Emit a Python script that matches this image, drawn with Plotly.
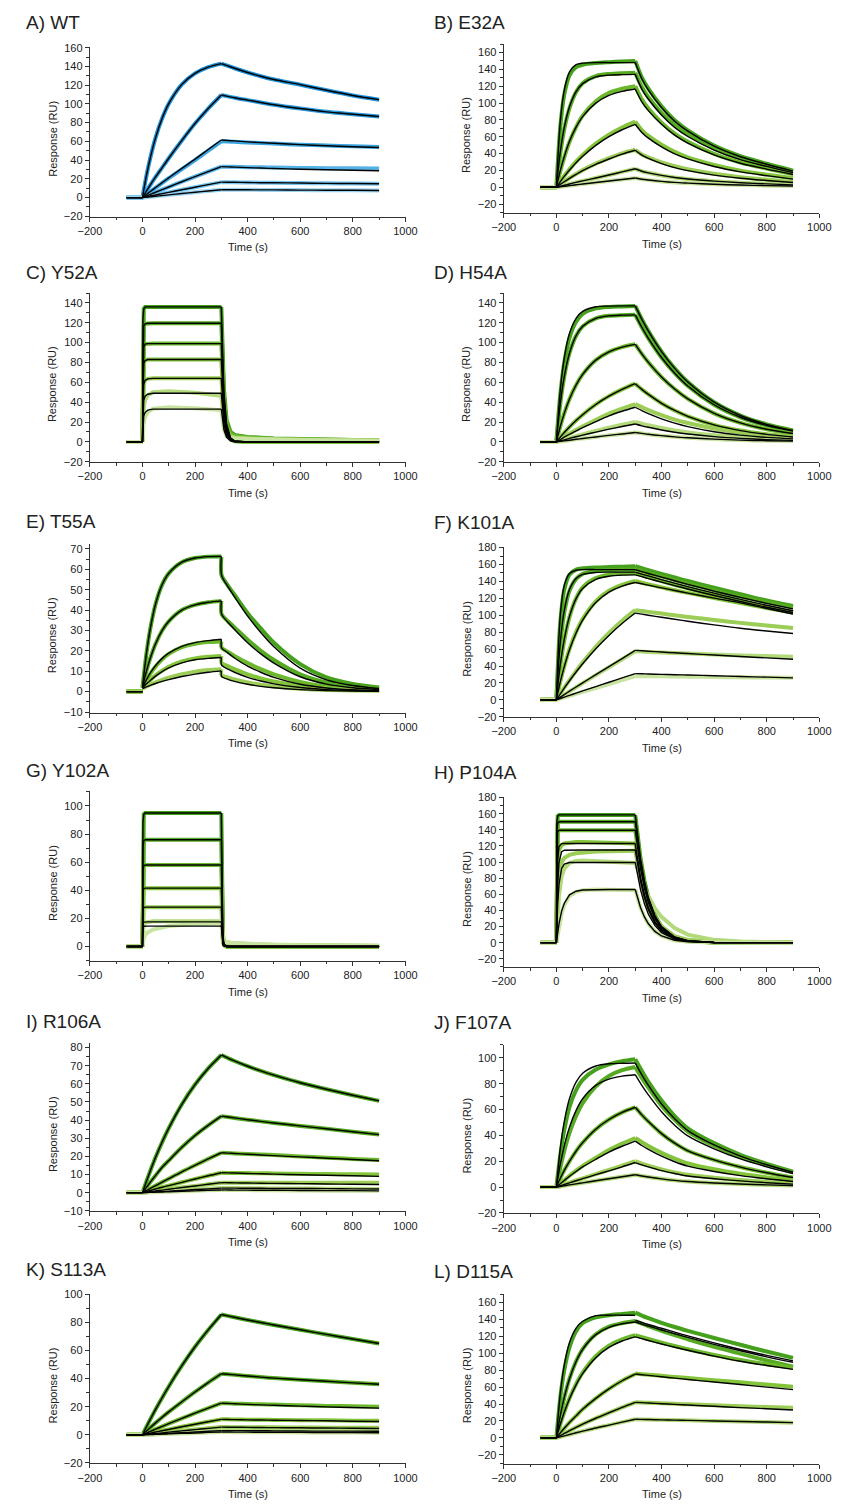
import plotly.graph_objects as go

W, H = 846, 1508

# ---------------- time grids (s) ----------------
BASE_T = [-60, 0]
BASE_Y = [0, 0]
T_A = [0, 15, 30, 50, 75, 100, 150, 200, 250, 300]
T_D = [300, 325, 350, 400, 450, 500, 600, 700, 800, 900]
T_A_FAST = [0, 2, 5, 10, 20, 40, 100, 200, 300]
T_D_FAST = [300, 303, 306, 310, 320, 335, 350, 400, 500, 600, 700, 800, 900]
T_A_P104 = [0, 2, 5, 10, 20, 30, 50, 75, 100, 150, 200, 300]
T_D_P104 = [300, 310, 320, 335, 350, 375, 400, 450, 500, 600, 700, 800, 900]
T_D_T55 = [300, 301, 325, 350, 400, 450, 500, 600, 700, 800, 900]

# ---------------- A) WT ----------------
WT_FIT_A = [
    [0, 23.1, 42.6, 64, 84.6, 100.2, 120.8, 132.6, 139.2, 143],
    [0, 6.8, 13.5, 22, 32, 42, 61, 79, 95, 109.5],
    [0, 3.3, 6.5, 10.8, 16, 21.2, 31.2, 41, 51.3, 61.5],
    [0, 1.7, 3.4, 5.7, 8.5, 11.3, 16.9, 22.4, 27.8, 33],
    [0, 0.85, 1.7, 2.8, 4.2, 5.6, 8.4, 11.1, 13.8, 16.5],
    [0, 0.45, 0.9, 1.45, 2.2, 2.9, 4.3, 5.7, 7.1, 8.4],
]
WT_FIT_D = [
    [143, 140.5, 138, 133.5, 129.5, 126, 120.5, 114.5, 109, 104.5],
    [109.5, 108, 106.5, 104, 101.5, 99, 95, 91.5, 89, 86.5],
    [61.5, 61, 60.5, 59.5, 58.7, 58, 56.5, 55.3, 54.3, 53.5],
    [33, 32.8, 32.5, 32, 31.5, 31, 30.3, 29.7, 29.2, 28.7],
    [16.5, 16.4, 16.3, 16.1, 15.9, 15.8, 15.5, 15.2, 15, 14.8],
    [8.4, 8.4, 8.3, 8.3, 8.2, 8.2, 8.0, 7.9, 7.8, 7.6],
]
WT_DATA_A = [WT_FIT_A[0], WT_FIT_A[1],
             [0, 3.2, 6.3, 10.5, 15.6, 20.7, 30.4, 40, 50, 60],
             WT_FIT_A[3], WT_FIT_A[4], WT_FIT_A[5]]
WT_DATA_D = [WT_FIT_D[0], WT_FIT_D[1],
             [60, 59.8, 59.5, 58.8, 58.2, 57.6, 56.5, 55.5, 54.7, 54],
             [33, 33, 32.8, 32.5, 32.3, 32, 31.7, 31.4, 31.2, 31],
             WT_FIT_D[4], WT_FIT_D[5]]

# ---------------- B) E32A ----------------
E32_FIT_A = [
    [0, 78, 115, 137, 145.5, 147.3, 148, 148, 148, 148],
    [0, 42, 70.8, 95.5, 113.5, 123, 131, 133.1, 133.7, 134],
    [0, 19.8, 36.3, 54.6, 71.4, 83.9, 99.9, 109, 113.9, 116.7],
    [0, 6.7, 12.9, 20.5, 29.2, 36.9, 49.8, 60.1, 68.3, 74.8],
    [0, 3.4, 6.6, 10.6, 15.3, 19.8, 27.3, 33.6, 39.4, 44],
    [0, 1.2, 2.4, 3.9, 5.8, 7.6, 11.1, 14.6, 18.3, 22],
    [0, 0.6, 1.2, 2, 3, 3.9, 5.7, 7.5, 9.3, 11],
]
E32_FIT_D = [
    [148, 128.8, 115.4, 94.7, 78.4, 66.6, 48.8, 36.3, 27.4, 19.2],
    [134, 116.6, 104.5, 85.8, 71, 60.3, 44.2, 32.8, 24.8, 17.4],
    [116.7, 101.5, 91, 74.7, 61.9, 52.5, 38.5, 28.6, 21.6, 15.2],
    [74.8, 65.1, 58.3, 47.9, 39.6, 33.7, 24.7, 18.3, 13.8, 9.7],
    [44, 38.3, 34.3, 28.2, 23.3, 19.8, 14.5, 10.8, 8.1, 5.7],
    [22, 19.1, 17.2, 14.1, 11.7, 9.9, 7.3, 5.4, 4.1, 2.9],
    [11, 9.6, 8.6, 7, 5.8, 5, 3.6, 2.7, 2, 1.5],
]
E32_DATA_A = [
    [0, 72, 110, 133, 142.5, 145.5, 147.5, 148.5, 149.3, 150],
    [0, 40, 69, 94, 113, 123.5, 132, 134.5, 135.5, 136],
    [0, 19, 35.5, 54, 71.5, 85, 102, 112, 117, 120],
    [0, 6.9, 13.4, 21.3, 30.4, 38.4, 51.8, 62.5, 71, 78],
    [0, 3.5, 6.8, 11, 15.8, 20.4, 28.1, 34.6, 40.3, 44.5],
    E32_FIT_A[5], E32_FIT_A[6],
]
E32_DATA_D = [
    [150, 130.5, 117, 96, 79.5, 67.5, 49.5, 37, 28, 19.8],
    [136, 119, 107, 88, 73.5, 62.5, 46, 34.5, 26, 18.5],
    [120, 104.4, 93.6, 76.8, 63.6, 54, 39.6, 29.4, 22.2, 15.6],
    [78, 68, 61, 50.5, 42, 35.5, 26.5, 19.8, 15, 11],
    [44.5, 39, 35.5, 29.5, 25, 21.5, 16, 12, 9, 6.5],
    E32_FIT_D[5], E32_FIT_D[6],
]

# ---------------- C) Y52A ----------------
Y52_FIT_A = [
    [0, 125, 134, 136, 136, 136, 136, 136, 136],
    [0, 108, 117, 119, 119.5, 119.5, 119.5, 119.5, 119.5],
    [0, 88, 96, 98.5, 99, 99, 99, 99, 99],
    [0, 70, 79, 82, 83, 83, 83, 83, 83],
    [0, 50, 58, 62, 63.5, 64, 64, 64, 64],
    [0, 35, 42, 46, 48, 49, 49, 49, 49],
    [0, 20, 26, 29.5, 32, 33, 33, 33, 33],
]
Y52_FIT_D = [
    [136, 100.6, 74.8, 50.3, 18.4, 4.1, 1, 0, 0, 0, 0, 0, 0],
    [119.5, 88.4, 65.7, 44.2, 16.1, 3.6, 0.8, 0, 0, 0, 0, 0, 0],
    [99, 73.3, 54.5, 36.6, 13.4, 3, 0.7, 0, 0, 0, 0, 0, 0],
    [83, 61.4, 45.7, 30.7, 11.2, 2.5, 0.6, 0, 0, 0, 0, 0, 0],
    [64, 47.4, 35.2, 23.7, 8.6, 1.9, 0.4, 0, 0, 0, 0, 0, 0],
    [49, 36.3, 27, 18.1, 6.6, 1.5, 0.3, 0, 0, 0, 0, 0, 0],
    [33, 24.4, 18.2, 12.2, 4.5, 1, 0.2, 0, 0, 0, 0, 0, 0],
]
Y52_DATA_A = [
    Y52_FIT_A[0], Y52_FIT_A[1], Y52_FIT_A[2], Y52_FIT_A[3], Y52_FIT_A[4],
    [0, 25, 35, 42, 47, 50, 51, 49.5, 46.5],
    [0, 12, 20, 25, 30, 33.5, 35, 34, 32],
]
Y52_DATA_D = [
    [136, 102, 77, 53, 22, 10, 7, 5, 3.5, 2.8, 2.3, 2, 1.8],
    Y52_FIT_D[1],
    [99, 75, 57, 40, 17, 8, 6, 4.5, 3.2, 2.6, 2.2, 2, 1.8],
    Y52_FIT_D[3],
    [64, 49, 37.5, 26, 11, 6, 4.5, 3.5, 2.5, 2, 1.8, 1.6, 1.5],
    [46.5, 35, 26.5, 18.5, 8, 5, 4, 3, 2.2, 1.8, 1.5, 1.3, 1.2],
    [32, 24, 18, 12.5, 6, 4, 3.5, 3, 2.3, 1.8, 1.5, 1.3, 1.2],
]

# ---------------- D) H54A ----------------
H54_FIT_A = [
    [0, 52.2, 84.5, 109.3, 124.5, 131.4, 136.1, 136.8, 137, 137],
    [0, 38.7, 65.7, 89.5, 106.9, 116.4, 124.5, 127, 127.7, 128],
    [0, 15.5, 28.7, 43.2, 57.3, 68, 82.4, 90.7, 95.5, 98.3],
    [0, 4.8, 9.4, 15.1, 21.5, 27.4, 37.7, 46.1, 52.9, 58.6],
    [0, 2.4, 4.7, 7.7, 11.1, 14.4, 20.4, 26.3, 30.9, 34.9],
    [0, 1.1, 2.1, 3.5, 5.2, 6.8, 9.9, 12.8, 15.5, 18],
    [0, 0.5, 1, 1.7, 2.6, 3.4, 5, 6.6, 8, 9.5],
]
H54_FIT_D = [
    [137, 123.6, 111.7, 91, 74.1, 60.3, 40, 26.6, 17.7, 11.6],
    [128, 115.5, 104.3, 85, 69.2, 56.3, 37.4, 24.8, 16.5, 10.9],
    [98.3, 88.7, 80.1, 65.3, 53.2, 43.3, 28.7, 19.1, 12.7, 8.4],
    [58.6, 52.9, 47.8, 38.9, 31.7, 25.8, 17.1, 11.4, 7.6, 5],
    [34.9, 31.5, 28.4, 23.2, 18.9, 15.4, 10.2, 6.8, 4.5, 3],
    [18, 16.2, 14.7, 12, 9.7, 7.9, 5.3, 3.5, 2.3, 1.5],
    [9.5, 8.6, 7.7, 6.3, 5.1, 4.2, 2.8, 1.8, 1.2, 0.8],
]
H54_DATA_A = [
    [0, 48, 80, 105, 121, 129, 134.5, 136, 136.5, 137],
    H54_FIT_A[1], H54_FIT_A[2], H54_FIT_A[3],
    [0, 2.6, 5.1, 8.4, 12.1, 15.7, 22.2, 28.6, 33.6, 38],
    [0, 1.2, 2.4, 3.9, 5.8, 7.6, 11, 14.3, 17.3, 20],
    H54_FIT_A[6],
]
H54_DATA_D = [
    H54_FIT_D[0], H54_FIT_D[1], H54_FIT_D[2], H54_FIT_D[3],
    [38, 35, 32, 27, 22.5, 19, 13.5, 9.5, 7, 5],
    [20, 18.3, 16.8, 14, 11.5, 9.5, 6.6, 4.6, 3.3, 2.4],
    H54_FIT_D[6],
]

# ---------------- E) T55A ----------------
T55_FIT_A = [
    [2, 18.5, 31, 43, 52.5, 58, 63.5, 65.5, 66.2, 66.3],
    [2, 10, 16.5, 23.5, 30, 34.5, 40, 42.5, 43.8, 44.5],
    [2, 5.8, 9.2, 12.8, 16.3, 18.9, 22.2, 24, 25, 25.7],
    [2, 3.8, 5.5, 7.6, 9.8, 11.6, 14.1, 15.6, 16.3, 16.7],
    [1.5, 2.3, 3.1, 4, 5, 5.9, 7.4, 8.6, 9.5, 10.2],
]
T55_FIT_D = [
    [66.3, 57, 51.5, 46.5, 37, 29, 22, 11.5, 5.8, 3, 1.5],
    [44.5, 38, 34, 30.5, 24, 18.5, 14, 7.3, 3.7, 1.9, 1],
    [25.7, 21.5, 19, 16.5, 12.5, 9.5, 7, 3.6, 1.8, 0.9, 0.5],
    [16.7, 13, 11, 9.5, 7, 5.2, 3.8, 2, 1, 0.5, 0.3],
    [10.2, 7.5, 6, 5, 3.6, 2.6, 1.9, 1, 0.5, 0.3, 0.2],
]
T55_DATA_A = [
    T55_FIT_A[0], T55_FIT_A[1],
    [2, 5.5, 8.8, 12.3, 15.8, 18.5, 21.8, 23.5, 24.3, 24.6],
    [2, 3.8, 5.7, 8, 10.3, 12.2, 14.8, 16.3, 17.1, 17.5],
    [1.5, 2.5, 3.5, 4.6, 5.8, 6.8, 8.5, 9.8, 10.6, 11],
]
T55_DATA_D = [
    [66, 57, 52, 47.5, 38.5, 31, 24, 13.5, 7, 3.8, 2],
    [44.5, 38, 34.5, 31.5, 25.5, 20, 15.5, 8.5, 4.5, 2.5, 1.5],
    [24.6, 21.5, 19.5, 17.5, 14, 11, 8.5, 4.8, 2.6, 1.5, 1],
    [17.5, 14, 12.5, 11, 8.5, 6.5, 5, 2.8, 1.6, 1, 0.7],
    [11, 8, 7, 6, 4.5, 3.4, 2.5, 1.4, 0.8, 0.5, 0.4],
]

# ---------------- F) K101A ----------------
K101_FIT_A = [
    [0, 100, 135.2, 149.4, 153.2, 154, 154, 154, 154, 154],
    [0, 68.1, 105.5, 130.6, 143.5, 148.3, 150.6, 151, 151, 151],
    [0, 41.6, 71.5, 98.7, 119.6, 131.6, 142.5, 146.2, 147.5, 147.8],
    [0, 21.2, 39.1, 59.2, 79, 94.2, 115, 127.3, 134.5, 138.8],
    [0, 7, 13.9, 22.6, 32.9, 42.7, 60.5, 76.2, 90.2, 102.6],
    [0, 3.1, 6.2, 10.2, 15.2, 20.1, 29.7, 39.2, 48.8, 58.5],
    [0, 1.6, 3.2, 5.3, 7.9, 10.5, 15.7, 20.8, 25.9, 31],
]
K101_FIT_D = [
    [154, 151.7, 149.4, 145.1, 140.8, 136.6, 128.6, 121.2, 114.1, 107.5],
    [151, 148.7, 146.5, 142.2, 138, 133.9, 126.1, 118.8, 111.9, 105.4],
    [147.8, 145.6, 143.4, 139.2, 135.1, 131.1, 123.4, 116.3, 109.5, 103.2],
    [138.8, 137.2, 135.6, 132.4, 129.3, 126.2, 120.3, 114.6, 108, 101.5],
    [102.6, 101.3, 100, 97.6, 95.3, 93, 88.6, 84.6, 81.4, 78.5],
    [58.5, 58, 57.5, 56.5, 55.6, 54.7, 53, 51.2, 49.6, 48],
    [31, 30.8, 30.6, 30.1, 29.7, 29.3, 28.5, 27.6, 26.8, 26],
]
K101_DATA_A = [
    [0, 92, 130, 148, 154, 155.5, 156.5, 157, 157.5, 158],
    [0, 65, 103, 129, 143, 149, 152.5, 153.5, 154, 154.5],
    [0, 40, 70, 98, 120, 133, 144, 148, 149.5, 150],
    [0, 21.5, 39.5, 60, 80, 95.5, 116.5, 129, 136, 140.5],
    [0, 7.2, 14.3, 23.3, 34, 44.2, 62.7, 79, 93.5, 106],
    [0, 3.1, 6.1, 10, 14.9, 19.7, 29.2, 38.6, 48, 57.5],
    [0, 1.4, 2.8, 4.7, 7.1, 9.4, 14, 18.6, 23.3, 28],
]
K101_DATA_D = [
    [158, 155.6, 153.3, 149, 144.6, 140.5, 132.5, 125, 117.5, 111],
    [154.5, 152.3, 150, 146, 141.7, 137.5, 129.5, 122, 115.5, 109],
    [150, 147.5, 145, 140.5, 136, 132, 124, 116.5, 109.5, 103.5],
    [140.5, 138.5, 136.5, 133, 129.5, 126.5, 120.5, 114.5, 108.5, 103],
    [106, 105, 104, 102, 100, 98, 94.5, 91, 88, 85],
    [57.5, 57, 56.5, 56, 55.3, 54.7, 53.5, 52.5, 51.7, 51],
    [28, 28, 27.9, 27.8, 27.6, 27.4, 27, 26.6, 26.3, 26],
]

# ---------------- G) Y102A ----------------
Y102_FIT_A = [
    [0, 88.4, 94, 95, 95, 95, 95, 95, 95],
    [0, 70.7, 75.2, 76, 76, 76, 76, 76, 76],
    [0, 54, 57.4, 58, 58, 58, 58, 58, 58],
    [0, 38.6, 41.1, 41.5, 41.5, 41.5, 41.5, 41.5, 41.5],
    [0, 26, 27.7, 28, 28, 28, 28, 28, 28],
    [0, 16.3, 17.3, 17.5, 17.5, 17.5, 17.5, 17.5, 17.5],
    [0, 13.5, 14.4, 14.5, 14.5, 14.5, 14.5, 14.5, 14.5],
]
Y102_FIT_D = [
    [95, 28.5, 8.6, 1.9, 0, 0, 0, 0, 0, 0, 0, 0, 0],
    [76, 22.8, 6.8, 1.5, 0, 0, 0, 0, 0, 0, 0, 0, 0],
    [58, 17.4, 5.2, 1.2, 0, 0, 0, 0, 0, 0, 0, 0, 0],
    [41.5, 12.5, 3.7, 0.8, 0, 0, 0, 0, 0, 0, 0, 0, 0],
    [28, 8.4, 2.5, 0.6, 0, 0, 0, 0, 0, 0, 0, 0, 0],
    [17.5, 5.3, 1.6, 0.4, 0, 0, 0, 0, 0, 0, 0, 0, 0],
    [14.5, 4.4, 1.3, 0.3, 0, 0, 0, 0, 0, 0, 0, 0, 0],
]
Y102_DATA_A = [
    Y102_FIT_A[0], Y102_FIT_A[1], Y102_FIT_A[2], Y102_FIT_A[3], Y102_FIT_A[4],
    [0, 14, 16, 17, 17.5, 18, 18, 18, 18],
    [0, 4, 6, 8, 10, 12, 14.5, 16, 16.5],
]
Y102_DATA_D = [
    Y102_FIT_D[0], Y102_FIT_D[1], Y102_FIT_D[2], Y102_FIT_D[3],
    [28, 11, 6, 4, 3, 2.5, 2.2, 1.5, 1, 0.8, 0.6, 0.5, 0.4],
    [18, 8, 5, 3.8, 3, 2.6, 2.3, 1.7, 1.2, 0.9, 0.7, 0.6, 0.5],
    [16.5, 7, 4.5, 3.5, 3, 2.7, 2.4, 1.8, 1.2, 0.9, 0.7, 0.6, 0.5],
]

# ---------------- H) P104A ----------------
P104_FIT_A = [
    [0, 150, 157, 158.5, 158.5, 158.5, 158.5, 158.5, 158.5, 158.5, 158.5, 158.5],
    [0, 140, 148, 150, 150, 150, 150, 150, 150, 150, 150, 150],
    [0, 111, 137, 139.5, 139.5, 139.5, 139.5, 139.5, 139.5, 139.5, 139.5, 139.5],
    [0, 61.5, 102, 119.3, 122.9, 123, 123, 123, 123, 123, 123, 123],
    [0, 37.9, 72.5, 99.4, 112.9, 114.7, 115, 115, 115, 115, 115, 115],
    [0, 22.8, 47.5, 72.3, 92.1, 97.5, 99.4, 99.5, 99.5, 99.5, 99.5, 99.5],
    [0, 5.7, 13.2, 23.4, 39.2, 48.6, 59.3, 63.8, 65.3, 66, 66, 66],
]
P104_FIT_D = [
    [158.5, 128.9, 104.8, 76.7, 56.3, 33.6, 20, 7.1, 2.5, 0.3, 0, 0, 0],
    [150, 122, 99.2, 72.6, 53.3, 31.8, 18.9, 6.8, 2.4, 0.3, 0, 0, 0],
    [139.5, 113.4, 92.2, 67.5, 49.5, 29.6, 17.6, 6.3, 2.2, 0.3, 0, 0, 0],
    [123, 100, 81.3, 59.5, 43.7, 26.1, 15.5, 5.5, 2, 0.2, 0, 0, 0],
    [115, 93.5, 76, 55.7, 40.8, 24.4, 14.5, 5.2, 1.8, 0.2, 0, 0, 0],
    [99.5, 80.9, 65.8, 48.2, 35.3, 21.1, 12.5, 4.5, 1.6, 0.2, 0, 0, 0],
    [66, 53.7, 43.6, 31.9, 23.4, 14, 8.3, 3, 1.1, 0.1, 0, 0, 0],
]
P104_DATA_A = [
    P104_FIT_A[0], P104_FIT_A[1], P104_FIT_A[2],
    [0, 50, 95, 115, 121, 123, 124, 125, 125, 124.5, 124, 123],
    [0, 30, 60, 85, 100, 105, 109, 111, 112, 113, 113.5, 114],
    [0, 15, 35, 58, 82, 92, 99, 101.5, 102, 101, 100, 99],
    [0, 4, 10, 20, 36, 47, 58, 63, 65, 66, 65.5, 65],
]
P104_DATA_D = [
    P104_FIT_D[0], P104_FIT_D[1], P104_FIT_D[2], P104_FIT_D[3],
    [114, 96, 80, 62, 48, 31, 20, 8, 3.5, 1, 0.5, 0, 0],
    [100, 89, 80, 67, 57, 42.5, 32, 18, 10, 3.5, 1.5, 0.5, 0],
    P104_FIT_D[6],
]

# ---------------- I) R106A ----------------
R106_FIT_A = [
    [0, 6.2, 12.1, 19.5, 27.9, 35.5, 48.7, 59.6, 68.5, 75.9],
    [0, 2.9, 5.8, 9.5, 14, 17.7, 25, 31.5, 37.1, 42.2],
    [0, 1.2, 2.3, 3.9, 5.8, 7.7, 11.5, 15.1, 18.6, 22],
    [0, 0.6, 1.2, 2, 3, 3.9, 5.7, 7.5, 9.3, 11],
    [0, 0.3, 0.6, 1, 1.4, 1.9, 2.8, 3.7, 4.6, 5.5],
    [0, 0.1, 0.3, 0.4, 0.6, 0.8, 1.2, 1.7, 2.1, 2.5],
    [0, 0.1, 0.2, 0.3, 0.4, 0.5, 0.8, 1, 1.3, 1.5],
]
R106_FIT_D = [
    [75.9, 74.2, 72.6, 69.7, 67.1, 64.8, 60.6, 57, 53.7, 50.6],
    [42.2, 41.7, 41.2, 40.2, 39.3, 38.4, 36.8, 35.2, 33.6, 32],
    [22, 21.8, 21.6, 21.2, 20.8, 20.4, 19.7, 19, 18.3, 17.6],
    [11, 10.9, 10.8, 10.6, 10.4, 10.2, 9.9, 9.6, 9.3, 9],
    [5.5, 5.5, 5.4, 5.3, 5.2, 5.1, 5, 4.8, 4.6, 4.5],
    [2.5, 2.5, 2.5, 2.4, 2.4, 2.3, 2.3, 2.2, 2.1, 2],
    [1.5, 1.5, 1.4, 1.4, 1.3, 1.3, 1.2, 1.1, 1.1, 1],
]
R106_DATA_A = R106_FIT_A
R106_DATA_D = [
    R106_FIT_D[0], R106_FIT_D[1],
    [22, 21.8, 21.6, 21.3, 21, 20.7, 20, 19.3, 18.6, 18],
    [11, 10.9, 10.9, 10.8, 10.7, 10.6, 10.4, 10.3, 10.1, 10],
    [5.5, 5.5, 5.5, 5.5, 5.5, 5.5, 5.5, 5.5, 5.5, 5.5],
    R106_FIT_D[5], R106_FIT_D[6],
]

# ---------------- J) F107A ----------------
F107_FIT_A = [
    [0, 30, 50.7, 68.5, 81.3, 88.1, 93.7, 95.4, 95.8, 96],
    [0, 17.7, 31.9, 46.4, 59.4, 68.4, 78.7, 83.6, 85.9, 87],
    [0, 6.8, 12.9, 20, 27.9, 34.4, 44.8, 52.3, 57.8, 61.8],
    [0, 2.6, 5.1, 8.4, 12.1, 15.6, 21.5, 27.1, 31.6, 35.6],
    [0, 1, 2, 3.3, 4.9, 6.5, 9.6, 12.6, 15.7, 19],
    [0, 0.5, 1, 1.7, 2.5, 3.3, 4.9, 6.5, 8, 9.5],
]
F107_FIT_D = [
    [96, 86.9, 78.7, 64.3, 52.8, 43.7, 32.6, 24, 17.3, 11.5],
    [87, 78.7, 71.3, 58.3, 47.9, 39.6, 29.6, 21.8, 15.7, 10.4],
    [61.8, 55.9, 50.7, 41.4, 34, 28.1, 21, 15.5, 11.1, 7.4],
    [35.6, 32.2, 29.2, 23.9, 19.6, 16.2, 12.1, 8.9, 6.4, 4.3],
    [19, 17.2, 15.6, 12.7, 10.5, 8.6, 6.5, 4.8, 3.4, 2.3],
    [9.5, 8.6, 7.8, 6.4, 5.2, 4.3, 3.2, 2.4, 1.7, 1.2],
]
F107_DATA_A = [
    [0, 25, 44, 62, 75, 83, 91, 95, 97.5, 99],
    [0, 15, 28, 42, 55, 65, 78, 86, 90.5, 93],
    F107_FIT_A[2],
    [0, 2.7, 5.3, 8.8, 12.7, 16.4, 22.7, 28.7, 33.6, 38],
    [0, 1, 2.1, 3.5, 5.2, 6.8, 10.1, 13.3, 16.6, 20],
    F107_FIT_A[5],
]
F107_DATA_D = [
    [99, 90, 81.5, 67, 55, 45.5, 34, 25, 18, 12],
    [93, 84.5, 77, 63, 52, 43, 32, 23.5, 17, 11.5],
    F107_FIT_D[2],
    [38, 34.8, 31.8, 26.5, 22, 18.3, 13.8, 10.3, 7.5, 5.2],
    [20, 18.2, 16.6, 13.7, 11.4, 9.5, 7.2, 5.4, 3.9, 2.7],
    F107_FIT_D[5],
]

# ---------------- K) S113A ----------------
S113_FIT_A = [
    [0, 5.6, 11.1, 18.1, 26.4, 34.4, 49.2, 62.7, 74.7, 85.7],
    [0, 2.6, 5.2, 8.5, 12.5, 16.3, 23.5, 30.5, 37.2, 43.5],
    [0, 1.2, 2.4, 4, 6, 7.9, 11.7, 15.4, 19, 22.5],
    [0, 0.6, 1.2, 2, 2.9, 3.8, 5.7, 7.5, 9.3, 11],
    [0, 0.3, 0.6, 1, 1.4, 1.9, 2.8, 3.7, 4.6, 5.5],
    [0, 0.15, 0.3, 0.5, 0.8, 1, 1.5, 2, 2.5, 3],
    [0, 0.1, 0.2, 0.3, 0.5, 0.7, 1, 1.3, 1.7, 2],
]
S113_FIT_D = [
    [85.7, 84.7, 83.7, 81.8, 80, 78.2, 74.8, 71.5, 68.2, 65],
    [43.5, 43.1, 42.7, 41.9, 41.1, 40.4, 39.2, 38.1, 37, 36],
    [22.5, 22.3, 22.1, 21.7, 21.3, 21, 20.4, 19.9, 19.4, 19],
    [11, 10.9, 10.8, 10.6, 10.5, 10.4, 10.2, 10, 9.7, 9.5],
    [5.5, 5.4, 5.4, 5.3, 5.2, 5.1, 5, 4.8, 4.7, 4.5],
    [3, 3, 3, 2.9, 2.9, 2.8, 2.7, 2.6, 2.6, 2.5],
    [2, 2, 1.9, 1.9, 1.8, 1.8, 1.7, 1.6, 1.6, 1.5],
]
S113_DATA_A = S113_FIT_A
S113_DATA_D = [
    S113_FIT_D[0], S113_FIT_D[1],
    [22.5, 22.4, 22.2, 22, 21.7, 21.5, 21, 20.6, 20.3, 20],
    [11, 11, 10.9, 10.8, 10.7, 10.6, 10.4, 10.3, 10.1, 10],
    [5.5, 5.5, 5.4, 5.4, 5.3, 5.3, 5.2, 5.1, 5.1, 5],
    S113_FIT_D[5], S113_FIT_D[6],
]

# ---------------- L) D115A ----------------
D115_FIT_A = [
    [0, 52.5, 86, 112.7, 129.7, 137.8, 144.4, 145, 145, 145],
    [0, 26.3, 47.7, 69.9, 90.3, 104.7, 122, 130.6, 134.8, 136.9],
    [0, 16.1, 30.3, 46.3, 62.7, 75.9, 94.8, 106.9, 114.5, 119.4],
    [0, 5.8, 11.3, 18.2, 26, 33.8, 46.7, 57.9, 67.5, 75.4],
    [0, 2.6, 5.2, 8.5, 12.5, 16.2, 23.2, 29.7, 36, 42],
    [0, 1.2, 2.4, 4, 6, 7.9, 11.7, 15.1, 18.6, 22],
]
D115_FIT_D = [
    [139, 136.5, 134, 129.5, 125, 120.5, 112.2, 104.5, 97.5, 91],
    [136.9, 134.4, 132.1, 127.5, 123, 118.7, 110.5, 103, 95.8, 89.3],
    [119.4, 117.2, 115.1, 111, 107.1, 103.5, 96.6, 90.5, 85.5, 81],
    [75.4, 74.6, 73.8, 72.2, 70.6, 69, 66, 63, 60, 57],
    [42, 41.6, 41.2, 40.4, 39.6, 38.8, 37.3, 35.8, 34.4, 33],
    [22, 21.8, 21.7, 21.3, 21, 20.7, 20, 19.3, 18.7, 18],
]
D115_DATA_A = [
    [0, 48, 80, 107, 126, 135.5, 142.5, 145, 146.5, 148],
    [0, 26, 47.5, 70, 90.5, 105, 122.5, 131.5, 135.5, 138],
    [0, 16, 30.5, 46.8, 63.5, 77, 96.5, 109, 116.5, 121.5],
    D115_FIT_A[3], D115_FIT_A[4], D115_FIT_A[5],
]
D115_DATA_D = [
    [148, 144.5, 141.5, 136, 131, 126.5, 118, 110, 102, 94.5],
    [138, 135, 132, 126.5, 121.5, 116.5, 107.5, 99.5, 91.5, 84],
    [121.5, 119, 116.8, 112.5, 108.5, 104.8, 98, 92, 87, 83],
    [76, 75.3, 74.6, 73.3, 72, 70.7, 68.2, 65.7, 63, 60.5],
    [42, 41.7, 41.4, 40.8, 40.2, 39.6, 38.5, 37.4, 36.4, 35.5],
    D115_FIT_D[5],
]

# ---------------- styling ----------------
GREENS = ["#45a01c", "#55aa22", "#6cb82c", "#84c43a", "#9bcd57", "#b2d97a", "#c9e4a0"]
BLUES = ["#1f8fd6", "#2a98da", "#3aa3df", "#55b2e6", "#76c3ec", "#9ad3f1"]
FONT = "Liberation Sans, Arial, sans-serif"
TXT = "#222222"
COLS = [(80, 405), (506, 831)]

PANELS = [
    dict(lab="A) WT", ta=T_A, td=T_D, fa=WT_FIT_A, fd=WT_FIT_D, da=WT_DATA_A, dd=WT_DATA_D,
         yr=[-20, 160], dt=20, pal=BLUES, shape="spline", col=0, top=41.7, bot=212.3, ty=16.5),
    dict(lab="B) E32A", ta=T_A, td=T_D, fa=E32_FIT_A, fd=E32_FIT_D, da=E32_DATA_A, dd=E32_DATA_D,
         yr=[-30, 170], dt=20, pal=GREENS, shape="spline", col=1, top=38.1, bot=208.5, ty=16.5),
    dict(lab="C) Y52A", ta=T_A_FAST, td=T_D_FAST, fa=Y52_FIT_A, fd=Y52_FIT_D, da=Y52_DATA_A, dd=Y52_DATA_D,
         yr=[-20, 150], dt=20, pal=GREENS, shape="linear", col=0, top=289, bot=459.7, ty=268.3),
    dict(lab="D) H54A", ta=T_A, td=T_D, fa=H54_FIT_A, fd=H54_FIT_D, da=H54_DATA_A, dd=H54_DATA_D,
         yr=[-20, 150], dt=20, pal=GREENS, shape="spline", col=1, top=289, bot=459.7, ty=268.3),
    dict(lab="E) T55A", ta=T_A, td=T_D_T55, fa=T55_FIT_A, fd=T55_FIT_D, da=T55_DATA_A, dd=T55_DATA_D,
         yr=[-10, 72], dt=10, pal=GREENS, shape="spline", col=0, top=542.5, bot=712.3, ty=519.3),
    dict(lab="F) K101A", ta=T_A, td=T_D, fa=K101_FIT_A, fd=K101_FIT_D, da=K101_DATA_A, dd=K101_DATA_D,
         yr=[-20, 180], dt=20, pal=GREENS, shape="spline", col=1, top=545.7, bot=716.7, ty=520.8),
    dict(lab="G) Y102A", ta=T_A_FAST, td=T_D_FAST, fa=Y102_FIT_A, fd=Y102_FIT_D, da=Y102_DATA_A, dd=Y102_DATA_D,
         yr=[-10, 110], dt=20, pal=GREENS, shape="linear", col=0, top=791.8, bot=962.6, ty=770.8),
    dict(lab="H) P104A", ta=T_A_P104, td=T_D_P104, fa=P104_FIT_A, fd=P104_FIT_D, da=P104_DATA_A, dd=P104_DATA_D,
         yr=[-30, 180], dt=20, pal=GREENS, shape="linear", col=1, top=797.7, bot=968.8, ty=772.5),
    dict(lab="I) R106A", ta=T_A, td=T_D, fa=R106_FIT_A, fd=R106_FIT_D, da=R106_DATA_A, dd=R106_DATA_D,
         yr=[-10, 82], dt=10, pal=GREENS, shape="spline", col=0, top=1045.7, bot=1215, ty=1023.7),
    dict(lab="J) F107A", ta=T_A, td=T_D, fa=F107_FIT_A, fd=F107_FIT_D, da=F107_DATA_A, dd=F107_DATA_D,
         yr=[-20, 110], dt=20, pal=GREENS, shape="spline", col=1, top=1046.9, bot=1217, ty=1025),
    dict(lab="K) S113A", ta=T_A, td=T_D, fa=S113_FIT_A, fd=S113_FIT_D, da=S113_DATA_A, dd=S113_DATA_D,
         yr=[-20, 100], dt=20, pal=GREENS, shape="spline", col=0, top=1298.3, bot=1469, ty=1273.7),
    dict(lab="L) D115A", ta=T_A, td=T_D, fa=D115_FIT_A, fd=D115_FIT_D, da=D115_DATA_A, dd=D115_DATA_D,
         yr=[-30, 170], dt=20, pal=GREENS, shape="spline", col=1, top=1298.1, bot=1469.2, ty=1275.8),
]


def curve_xy(ta, ya, td, yd):
    x = BASE_T + [None] + list(ta) + [None] + list(td)
    y = BASE_Y + [None] + list(ya) + [None] + list(yd)
    return x, y


fig = go.Figure()
annotations = []
layout_axes = {}

for i, p in enumerate(PANELS):
    n = i + 1
    xref = "x" if n == 1 else f"x{n}"
    yref = "y" if n == 1 else f"y{n}"
    x0, x1 = COLS[p["col"]]
    line_kw = dict(shape=p["shape"], smoothing=0.8) if p["shape"] == "spline" else dict(shape="linear")

    # measured data (coloured, thick)
    for k, (ya, yd) in enumerate(zip(p["da"], p["dd"])):
        x, y = curve_xy(p["ta"], ya, p["td"], yd)
        col = p["pal"][min(k, len(p["pal"]) - 1)]
        fig.add_trace(go.Scatter(x=x, y=y, mode="lines", xaxis=xref, yaxis=yref,
                                 line=dict(color=col, width=4, **line_kw),
                                 hoverinfo="skip"))
    # fitted model (black, thin)
    for k, (ya, yd) in enumerate(zip(p["fa"], p["fd"])):
        x, y = curve_xy(p["ta"], ya, p["td"], yd)
        fig.add_trace(go.Scatter(x=x, y=y, mode="lines", xaxis=xref, yaxis=yref,
                                 line=dict(color="#000000", width=1.4, **line_kw),
                                 hoverinfo="skip"))

    ykey = "yaxis" if n == 1 else f"yaxis{n}"
    xkey = "xaxis" if n == 1 else f"xaxis{n}"
    layout_axes[xkey] = dict(
        domain=[x0 / W, x1 / W], anchor=yref, range=[-200.5, 1000.5],
        tickmode="linear", tick0=0, dtick=200, ticks="outside", ticklen=4, tickwidth=1,
        tickcolor="#333333", showline=True, linecolor="#333333", linewidth=1,
        showgrid=False, zeroline=False, tickfont=dict(family=FONT, size=11, color=TXT),
        minor=dict(dtick=100, tick0=0, ticks="outside", ticklen=2.5, tickcolor="#333333"),
        fixedrange=True,
    )
    lo, hi = p["yr"]
    layout_axes[ykey] = dict(
        domain=[1 - p["bot"] / H, 1 - p["top"] / H], anchor=xref, range=[lo - 0.3, hi + 0.3],
        tickmode="linear", tick0=0, dtick=p["dt"], ticks="outside", ticklen=4, tickwidth=1,
        tickcolor="#333333", showline=True, linecolor="#333333", linewidth=1,
        showgrid=False, zeroline=False, tickfont=dict(family=FONT, size=11, color=TXT),
        minor=dict(dtick=p["dt"] / 2, tick0=0, ticks="outside", ticklen=2.5, tickcolor="#333333"),
        fixedrange=True,
    )

    # panel title
    annotations.append(dict(text=p["lab"], xref="paper", yref="paper",
                            x=(12.5 if p["col"] == 0 else 432) / W, y=1 - p["ty"] / H,
                            xanchor="left", yanchor="middle", showarrow=False,
                            font=dict(family=FONT, size=19, color=TXT)))
    # y axis title
    annotations.append(dict(text="Response (RU)", xref="paper", yref="paper",
                            x=(42 if p["col"] == 0 else 468) / W,
                            y=1 - ((p["top"] + p["bot"]) / 2 + 7) / H,
                            xanchor="center", yanchor="middle", textangle=-90, showarrow=False,
                            font=dict(family=FONT, size=11, color=TXT)))
    # x axis title
    annotations.append(dict(text="Time (s)", xref="paper", yref="paper",
                            x=((x0 + x1) / 2) / W, y=1 - (p["bot"] + 31) / H,
                            xanchor="center", yanchor="middle", showarrow=False,
                            font=dict(family=FONT, size=11, color=TXT)))

fig.update_layout(
    width=W, height=H, margin=dict(l=0, r=0, t=0, b=0),
    paper_bgcolor="white", plot_bgcolor="white", showlegend=False,
    annotations=annotations, **layout_axes,
)

fig.write_html("out.html")
